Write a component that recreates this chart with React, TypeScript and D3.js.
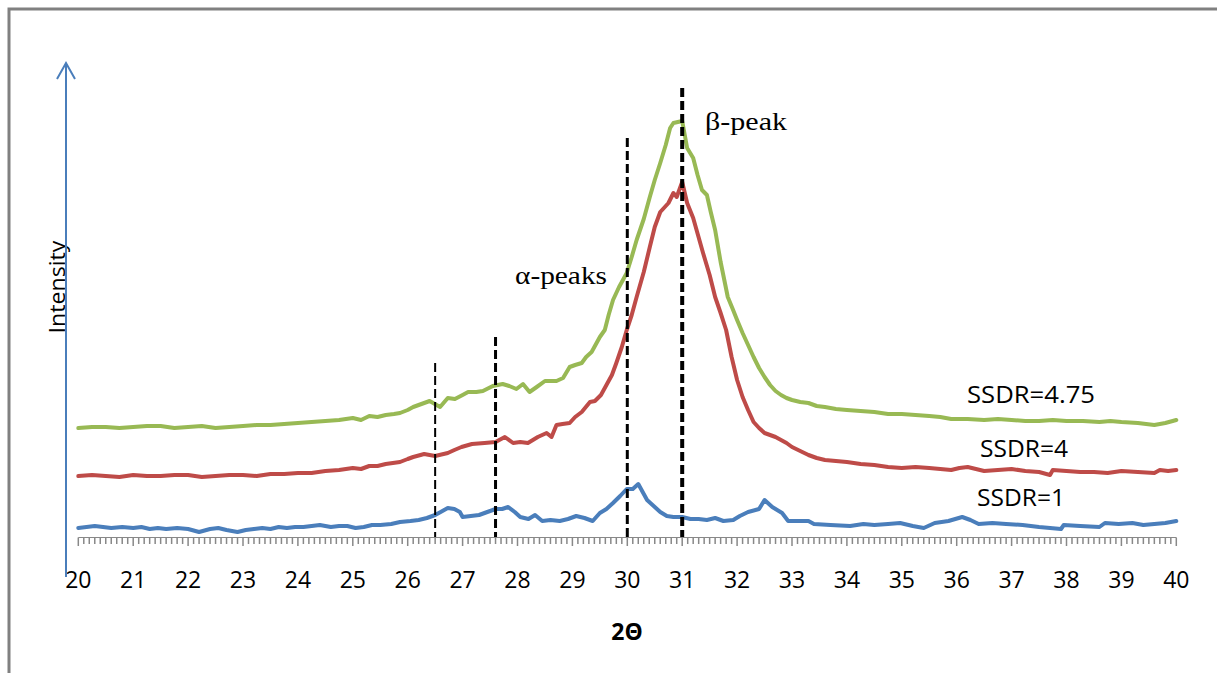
import React, { useEffect } from 'react'
import * as d3 from 'd3'

// diffraction scans, [2θ, intensity (a.u.)]
const ssdr1: [number, number][] = [
  [20.0, 9], [20.15, 10], [20.3, 11], [20.45, 10], [20.6, 9], [20.8, 10], [21.0, 9],
  [21.15, 10], [21.3, 8], [21.45, 9], [21.6, 8], [21.8, 9], [22.0, 8], [22.2, 5],
  [22.4, 8], [22.55, 9], [22.7, 7], [22.9, 5], [23.05, 7], [23.2, 8], [23.35, 9], [23.5, 8],
  [23.65, 10], [23.8, 9], [23.95, 10], [24.1, 10], [24.25, 11], [24.4, 12], [24.6, 10],
  [24.75, 11], [24.9, 11], [25.05, 9], [25.2, 10], [25.35, 12], [25.5, 12], [25.7, 13],
  [25.86, 15], [26.05, 16], [26.2, 17], [26.35, 19], [26.5, 22], [26.6, 25], [26.73, 29],
  [26.85, 28], [26.95, 25], [27.0, 20], [27.15, 21], [27.3, 22], [27.45, 25], [27.6, 28],
  [27.72, 28], [27.83, 30], [27.95, 25], [28.05, 20], [28.2, 18], [28.32, 22], [28.45, 16],
  [28.6, 17], [28.77, 16], [28.92, 18], [29.07, 21], [29.22, 19], [29.37, 16], [29.5, 24],
  [29.62, 28], [29.74, 34], [29.87, 41], [29.99, 48], [30.1, 48], [30.2, 53], [30.28, 45],
  [30.36, 37], [30.5, 30], [30.6, 25], [30.72, 21], [30.84, 20], [31.0, 20], [31.15, 18],
  [31.3, 18], [31.45, 17], [31.6, 19], [31.75, 16], [31.93, 17], [32.05, 21], [32.2, 25],
  [32.4, 28], [32.5, 37], [32.64, 30], [32.82, 24], [32.93, 16], [33.1, 16], [33.3, 16],
  [33.4, 13], [33.7, 12], [34.06, 11], [34.3, 13], [34.5, 12], [34.75, 13], [34.97, 14],
  [35.2, 11], [35.4, 9], [35.6, 14], [35.85, 16], [36.1, 20], [36.25, 17], [36.4, 13],
  [36.65, 14], [36.9, 13], [37.2, 12], [37.5, 10], [37.7, 9], [37.9, 8], [37.95, 12],
  [38.25, 11], [38.6, 10], [38.7, 14], [38.95, 13], [39.2, 14], [39.4, 12], [39.6, 13],
  [39.8, 14], [40.0, 16],
]

const ssdr4: [number, number][] = [
  [20.0, 61], [20.25, 62], [20.5, 61], [20.75, 60], [21.0, 62], [21.25, 61], [21.5, 61],
  [21.75, 62], [22.0, 62], [22.25, 60], [22.5, 61], [22.75, 62], [23.0, 62], [23.25, 61],
  [23.5, 63], [23.75, 63], [24.0, 64], [24.25, 64], [24.5, 66], [24.75, 67], [25.0, 69],
  [25.15, 68], [25.3, 71], [25.45, 71], [25.6, 73], [25.86, 75], [26.0, 78], [26.1, 80],
  [26.3, 83], [26.5, 81], [26.73, 84], [26.85, 87], [26.98, 90], [27.17, 93], [27.4, 94],
  [27.6, 95], [27.77, 100], [27.92, 94], [28.05, 95], [28.19, 94], [28.37, 100], [28.53, 104],
  [28.62, 100], [28.71, 112], [28.82, 113], [28.95, 114], [29.05, 120], [29.17, 125],
  [29.32, 135], [29.41, 136], [29.52, 142], [29.62, 152], [29.72, 162], [29.8, 174],
  [29.9, 190], [29.99, 207], [30.08, 222], [30.17, 240], [30.3, 265], [30.41, 290],
  [30.5, 310], [30.6, 325], [30.75, 334], [30.84, 344], [30.9, 340], [31.0, 355],
  [31.09, 334], [31.2, 319], [31.38, 284], [31.5, 262], [31.6, 240], [31.7, 224],
  [31.8, 207], [31.9, 180], [32.0, 157], [32.1, 140], [32.2, 127], [32.3, 115], [32.4, 109],
  [32.5, 104], [32.6, 102], [32.7, 100], [32.8, 97], [32.9, 94], [33.0, 90], [33.15, 86],
  [33.3, 82], [33.45, 79], [33.6, 77], [33.8, 76], [34.0, 75], [34.25, 73], [34.5, 72],
  [34.75, 70], [35.0, 69], [35.25, 70], [35.5, 69], [35.7, 68], [35.9, 67], [36.05, 69],
  [36.2, 70], [36.35, 68], [36.5, 66], [36.75, 67], [37.0, 68], [37.25, 66], [37.5, 65],
  [37.7, 62], [37.75, 67], [38.0, 66], [38.25, 65], [38.5, 65], [38.75, 64], [39.0, 66],
  [39.3, 65], [39.6, 64], [39.7, 67], [39.85, 66], [40.0, 67],
]

const ssdr475: [number, number][] = [
  [20.0, 109], [20.25, 110], [20.5, 110], [20.75, 109], [21.0, 110], [21.25, 111],
  [21.5, 111], [21.75, 109], [22.0, 110], [22.25, 111], [22.5, 109], [22.75, 110],
  [23.0, 111], [23.25, 112], [23.5, 112], [23.75, 113], [24.0, 114], [24.25, 115],
  [24.5, 116], [24.75, 117], [25.0, 119], [25.15, 117], [25.3, 121], [25.45, 120],
  [25.6, 122], [25.75, 123], [25.86, 124], [26.0, 127], [26.1, 130], [26.25, 133],
  [26.4, 136], [26.59, 130], [26.73, 139], [26.86, 138], [27.0, 142], [27.1, 145],
  [27.25, 145], [27.37, 146], [27.55, 151], [27.73, 153], [27.85, 151], [27.98, 148],
  [28.1, 153], [28.22, 145], [28.35, 150], [28.5, 156], [28.71, 156], [28.83, 159],
  [28.95, 170], [29.05, 172], [29.17, 174], [29.25, 180], [29.35, 185], [29.42, 192],
  [29.5, 200], [29.59, 207], [29.66, 222], [29.74, 237], [29.85, 250], [29.99, 264],
  [30.08, 280], [30.17, 297], [30.3, 318], [30.41, 340], [30.5, 357], [30.6, 374],
  [30.7, 392], [30.78, 409], [30.84, 414], [30.92, 415], [31.0, 416], [31.09, 389],
  [31.2, 379], [31.28, 362], [31.36, 347], [31.45, 342], [31.52, 325], [31.6, 307],
  [31.7, 275], [31.83, 240], [31.92, 228], [32.0, 217], [32.1, 204], [32.2, 192],
  [32.3, 180], [32.4, 169], [32.5, 160], [32.6, 152], [32.7, 146], [32.8, 142],
  [32.9, 139], [33.0, 137], [33.15, 135], [33.3, 134], [33.45, 131], [33.6, 130],
  [33.8, 128], [34.0, 127], [34.25, 126], [34.5, 125], [34.75, 123], [35.0, 123],
  [35.25, 122], [35.5, 121], [35.7, 120], [35.9, 118], [36.2, 118], [36.5, 117],
  [36.75, 118], [37.0, 117], [37.25, 116], [37.5, 116], [37.75, 117], [38.0, 116],
  [38.3, 116], [38.6, 115], [38.8, 116], [39.0, 115], [39.3, 114], [39.6, 112],
  [39.8, 114], [40.0, 117],
]

const seriesNames = ['SSDR=1', 'SSDR=4', 'SSDR=4.75']
const seriesColors = ['#4a7ebb', '#be4b48', '#98b954']

// marker lines for the peaks: position and top
const peakPos = [26.5, 27.6, 30, 31]
const peakTop = [174, 200, 399, 449]
const peakWidth = [2, 3, 3, 4]

const xTicks = d3.range(20, 41)

export default function App() {
  useEffect(() => {
    document.body.style.margin = '0'
  }, [])

  const x = d3.scaleLinear().domain([20, 40]).range([78.3, 1176.3])
  const y = d3.scaleLinear().domain([0, 450]).range([537, 87])

  const line = d3
    .line<[number, number]>()
    .x((d) => x(d[0]))
    .y((d) => y(d[1]))

  const minor = d3.range(200, 401).map((v) => v / 10)
  const all = [ssdr1, ssdr4, ssdr475]

  return (
    <svg width={1217} height={673} style={{ display: 'block', background: '#fff' }}>
      {/* chart frame */}
      <rect x={9} y={9} width={1240} height={700} fill="none" stroke="#808080" strokeWidth={3} />

      {/* x axis */}
      <line x1={x(20)} x2={x(40)} y1={537.5} y2={537.5} stroke="#888" strokeWidth={1.2} />
      {minor.map((v, i) => {
        const major = Math.abs(v - Math.round(v)) < 1e-6
        return (
          <line
            key={i}
            x1={x(v)}
            x2={x(v)}
            y1={537.5}
            y2={major ? 546 : 544}
            stroke="#888"
            strokeWidth={1.5}
          />
        )
      })}
      {xTicks.map((t) => (
        <text
          key={t}
          x={x(t)}
          y={588}
          textAnchor="middle"
          fontFamily="'Open Sans', sans-serif"
          fontSize={23}
          fill="#000"
        >
          {t}
        </text>
      ))}
      <text
        x={627}
        y={640}
        textAnchor="middle"
        fontFamily="'Open Sans', sans-serif"
        fontWeight="bold"
        fontSize={23}
        fill="#000"
      >
        2Θ
      </text>

      {/* y arrow */}
      <text
        transform="translate(65,287) rotate(-90)"
        textAnchor="middle"
        fontFamily="'Open Sans', sans-serif"
        fontSize={22}
        textLength={93}
        lengthAdjust="spacingAndGlyphs"
        fill="#000"
      >
        Intensity
      </text>
      <line x1={66} x2={66} y1={577} y2={63} stroke="#4a7ebb" strokeWidth={2} />
      <polyline
        points="57,79 66,63 75,79"
        fill="none"
        stroke="#4a7ebb"
        strokeWidth={2}
      />

      {/* series */}
      {all.map((s, i) => (
        <path
          key={seriesNames[i]}
          d={line(s) || ''}
          fill="none"
          stroke={seriesColors[i]}
          strokeWidth={4}
          strokeLinejoin="round"
          strokeLinecap="round"
        />
      ))}

      {/* peak markers */}
      {peakPos.map((p, i) => (
        <line
          key={p}
          x1={x(p)}
          x2={x(p)}
          y1={y(peakTop[i])}
          y2={537}
          stroke="#000"
          strokeWidth={peakWidth[i]}
          strokeDasharray="9,4"
        />
      ))}

      {/* labels */}
      <text x={967} y={403} fontFamily="'Open Sans', sans-serif" fontSize={23} textLength={128} lengthAdjust="spacingAndGlyphs">
        {seriesNames[2]}
      </text>
      <text x={980} y={457} fontFamily="'Open Sans', sans-serif" fontSize={23} textLength={88} lengthAdjust="spacingAndGlyphs">
        {seriesNames[1]}
      </text>
      <text x={977} y={506} fontFamily="'Open Sans', sans-serif" fontSize={23} textLength={88} lengthAdjust="spacingAndGlyphs">
        {seriesNames[0]}
      </text>
      <text x={515} y={284} fontFamily="'Liberation Serif', serif" fontSize={26} textLength={92} lengthAdjust="spacingAndGlyphs">
        α-peaks
      </text>
      <text x={705} y={130} fontFamily="'Liberation Serif', serif" fontSize={26} textLength={82} lengthAdjust="spacingAndGlyphs">
        β-peak
      </text>
    </svg>
  )
}
